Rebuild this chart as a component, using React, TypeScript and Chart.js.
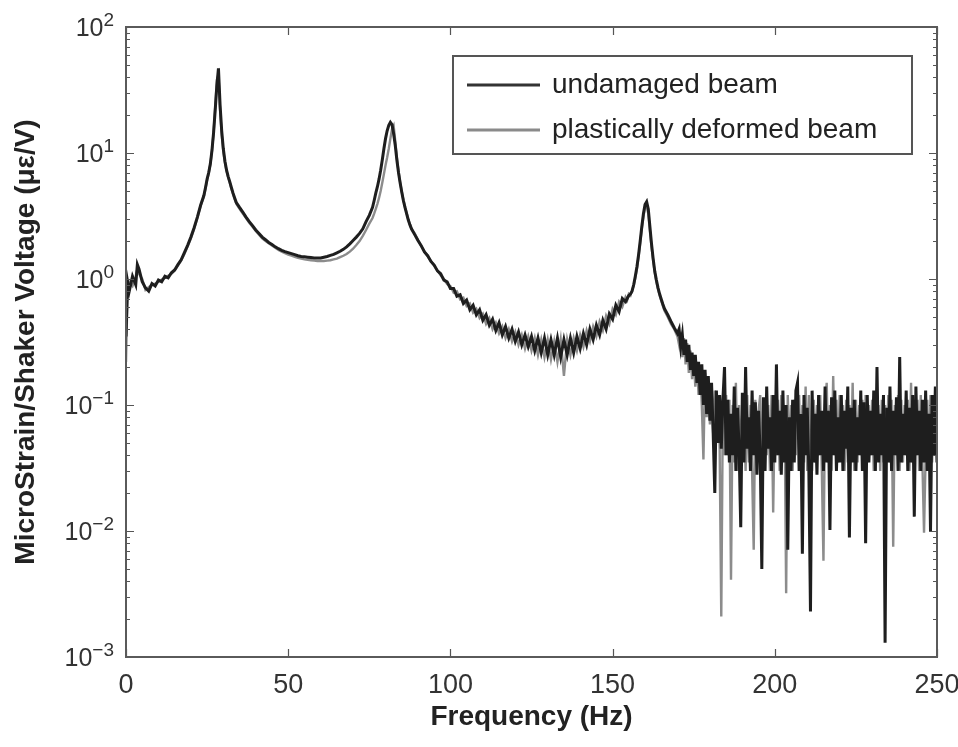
import React, { useEffect, useRef } from "react";
import { Chart, registerables } from "chart.js";

Chart.register(...registerables);

const FONT = '"Liberation Sans", Arial, Helvetica, sans-serif';

// ---------- data (frequency in Hz, response in microstrain / V) ----------
const freqA = [0, 0.5, 1, 2, 3, 3.5, 4, 5, 6, 7, 8, 9, 10, 11, 12, 13, 14, 15, 16, 17, 18, 19, 20, 21, 22, 23, 24];
const undamagedA = [0.35, 0.95, 0.8, 1.05, 0.9, 1.3, 1.2, 0.95, 0.85, 0.8, 0.92, 0.88, 0.98, 0.95, 1.05, 1.02, 1.12, 1.18, 1.3, 1.42, 1.62, 1.85, 2.15, 2.55, 3.1, 3.85, 4.6];
const plasticA = [0.22, 0.85, 0.95, 0.88, 1.05, 1.2, 1.1, 1.0, 0.82, 0.86, 0.9, 0.92, 0.95, 0.99, 1.02, 1.06, 1.1, 1.17, 1.28, 1.4, 1.58, 1.82, 2.1, 2.5, 3.05, 3.8, 4.5];

const freqB = [24.5, 25, 25.5, 26, 26.5, 27, 27.5, 28, 28.5, 29, 29.5, 30, 30.5, 31, 31.5, 32, 32.5, 33, 33.5, 34];
const undamagedB = [5.3, 6.2, 7.0, 8.2, 10.5, 14.5, 22, 34, 47, 24, 15, 10.8, 8.6, 7.3, 6.5, 5.9, 5.3, 4.8, 4.4, 4.05];
const plasticB = [5.2, 6.1, 6.9, 8.1, 10.4, 14.5, 23, 38, 42, 22, 14, 10.3, 8.4, 7.2, 6.4, 5.8, 5.2, 4.7, 4.3, 3.95];

const freqC = [35, 36, 37, 38, 39, 40, 41, 42, 43, 44, 45, 46, 47, 48, 49, 50, 51, 52, 53, 54, 55, 56, 57, 58, 59, 60, 61, 62, 63, 64, 65, 66, 67, 68, 69, 70, 71, 72, 73, 74, 75, 76];
const undamagedC = [3.7, 3.4, 3.1, 2.85, 2.65, 2.45, 2.3, 2.15, 2.05, 1.95, 1.88, 1.8, 1.74, 1.69, 1.65, 1.62, 1.59, 1.56, 1.53, 1.51, 1.5, 1.49, 1.48, 1.47, 1.47, 1.47, 1.49, 1.51, 1.54, 1.57, 1.61, 1.66, 1.72, 1.8, 1.9, 2.02, 2.15, 2.3, 2.5, 2.85, 3.2, 3.7];
const plasticC = [3.6, 3.3, 3.05, 2.8, 2.6, 2.4, 2.25, 2.1, 2.0, 1.92, 1.84, 1.77, 1.7, 1.65, 1.6, 1.56, 1.53, 1.5, 1.47, 1.45, 1.43, 1.42, 1.41, 1.4, 1.39, 1.39, 1.39, 1.4, 1.41, 1.43, 1.45, 1.49, 1.53, 1.58, 1.65, 1.74, 1.86, 2.0, 2.2, 2.45, 2.75, 3.05];

const freqD = [76.5, 77, 77.5, 78, 78.5, 79, 79.5, 80, 80.5, 81, 81.5, 82, 82.5, 83, 83.5, 84, 84.5, 85, 85.5, 86, 86.5, 87, 87.5, 88];
const undamagedD = [4.2, 4.8, 5.4, 6.2, 7.3, 8.8, 10.8, 13.0, 15.0, 16.6, 17.5, 16.8, 14.2, 11.5, 8.8, 7.0, 5.8, 4.9, 4.2, 3.7, 3.3, 2.95, 2.7, 2.5];
const plasticD = [3.3, 3.6, 3.95, 4.4, 5.0, 5.8, 6.8, 8.0, 9.2, 10.8, 13.0, 15.5, 16.5, 12.5, 9.2, 7.2, 5.9, 4.95, 4.25, 3.75, 3.35, 3.0, 2.72, 2.5];

const freqE = [89, 90, 91, 92, 93, 94, 95, 96, 97, 98, 99, 100, 101, 102, 103, 104, 105, 106, 107, 108, 109, 110, 111, 112, 113, 114, 115, 116, 117, 118, 119, 120, 121, 122, 123, 124, 125, 126, 127, 128, 129, 130, 131, 132, 133, 134, 135, 136, 137, 138, 139, 140, 141, 142, 143, 144, 145, 146, 147, 148, 149, 150, 151, 152, 153, 154];
const undamagedE = [2.25, 2.02, 1.84, 1.64, 1.53, 1.38, 1.29, 1.16, 1.1, 0.98, 0.95, 0.84,
  0.84, 0.73, 0.75, 0.64, 0.68, 0.57, 0.62, 0.52, 0.57, 0.47,
  0.52, 0.43, 0.48, 0.39, 0.45, 0.36, 0.42, 0.34, 0.4, 0.32,
  0.38, 0.3, 0.36, 0.29, 0.35, 0.27, 0.34, 0.26, 0.34, 0.25,
  0.33, 0.25, 0.34, 0.24, 0.33, 0.25, 0.34, 0.26, 0.35, 0.28,
  0.37, 0.3, 0.4, 0.33, 0.43, 0.36, 0.47, 0.4, 0.53, 0.48,
  0.62, 0.55, 0.7, 0.66];
const plasticE = [2.3, 2.05, 1.83, 1.66, 1.51, 1.39, 1.27, 1.17, 1.07, 1.0, 0.91, 0.88,
  0.78, 0.8, 0.69, 0.71, 0.61, 0.64, 0.54, 0.58, 0.49, 0.53,
  0.44, 0.49, 0.4, 0.45, 0.37, 0.42, 0.34, 0.4, 0.32, 0.38,
  0.3, 0.36, 0.28, 0.35, 0.27, 0.34, 0.25, 0.33, 0.24, 0.33,
  0.23, 0.32, 0.22, 0.33, 0.17, 0.33, 0.25, 0.34, 0.27, 0.36,
  0.29, 0.39, 0.32, 0.42, 0.35, 0.46, 0.39, 0.51, 0.44, 0.58,
  0.52, 0.66, 0.6, 0.72];

const freqF = [154.5, 155, 155.5, 156, 156.5, 157, 157.5, 158, 158.5, 159, 159.5, 160, 160.5, 161, 161.5, 162, 162.5, 163, 163.5, 164, 164.5, 165, 165.5, 166];
const undamagedF = [0.7, 0.74, 0.76, 0.8, 0.9, 1.05, 1.25, 1.55, 2.0, 2.6, 3.3, 3.9, 4.1, 3.6, 2.6, 1.9, 1.45, 1.15, 0.98, 0.85, 0.76, 0.69, 0.63, 0.58];
const plasticF = [0.68, 0.76, 0.74, 0.82, 0.88, 1.02, 1.2, 1.5, 1.9, 2.5, 3.1, 3.7, 3.8, 3.3, 2.4, 1.8, 1.4, 1.12, 0.95, 0.83, 0.74, 0.67, 0.61, 0.56];

const freqG = [167, 168, 169, 170];
const undamagedG = [0.52, 0.46, 0.41, 0.37];
const plasticG = [0.5, 0.44, 0.4, 0.35];

const freqH1 = [170.5, 171, 171.5, 172, 172.5, 173, 173.5, 174, 174.5, 175,
  175.5, 176, 176.5, 177, 177.5, 178, 178.5, 179, 179.5, 180,
  180.5, 181, 181.5, 182, 182.5, 183, 183.5, 184, 184.5, 185,
  185.5, 186, 186.5, 187, 187.5, 188, 188.5, 189, 189.5, 190,
  190.5, 191, 191.5, 192, 192.5, 193, 193.5, 194, 194.5, 195,
  195.5, 196, 196.5, 197, 197.5, 198, 198.5, 199, 199.5, 200,
  200.5, 201, 201.5, 202, 202.5, 203, 203.5, 204, 204.5, 205,
  205.5, 206, 206.5, 207, 207.5, 208, 208.5, 209, 209.5, 210];
const undamagedH1 = [0.4, 0.29, 0.36, 0.25, 0.33, 0.22, 0.3, 0.19, 0.26, 0.17,
  0.25, 0.15, 0.22, 0.12, 0.21, 0.1, 0.19, 0.085, 0.17, 0.075,
  0.15, 0.06, 0.02, 0.13, 0.05, 0.12, 0.045, 0.11, 0.2, 0.04,
  0.11, 0.035, 0.085, 0.04, 0.14, 0.03, 0.095, 0.045, 0.0107, 0.125,
  0.035, 0.2, 0.045, 0.08, 0.03, 0.13, 0.04, 0.105, 0.028, 0.09,
  0.04, 0.005, 0.115, 0.03, 0.14, 0.045, 0.08, 0.03, 0.12, 0.035,
  0.21, 0.04, 0.09, 0.028, 0.13, 0.035, 0.1, 0.0071, 0.08, 0.03,
  0.11, 0.035, 0.13, 0.15, 0.03, 0.085, 0.0066, 0.12, 0.04, 0.095];
const plasticH1 = [0.3, 0.38, 0.24, 0.34, 0.21, 0.31, 0.18, 0.27, 0.16, 0.24,
  0.14, 0.22, 0.12, 0.2, 0.1, 0.037, 0.18, 0.08, 0.16, 0.07,
  0.14, 0.06, 0.13, 0.05, 0.12, 0.045, 0.0021, 0.11, 0.04, 0.12,
  0.04, 0.11, 0.0041, 0.1, 0.035, 0.15, 0.03, 0.1, 0.04, 0.09,
  0.11, 0.03, 0.12, 0.035, 0.1, 0.03, 0.0071, 0.11, 0.04, 0.09,
  0.12, 0.03, 0.035, 0.11, 0.04, 0.1, 0.03, 0.12, 0.014, 0.1,
  0.04, 0.11, 0.03, 0.12, 0.04, 0.1, 0.0032, 0.12, 0.035, 0.1,
  0.03, 0.11, 0.04, 0.1, 0.12, 0.03, 0.1, 0.035, 0.14, 0.03];

const freqH2 = [210.5, 211, 211.5, 212, 212.5, 213, 213.5, 214, 214.5, 215,
  215.5, 216, 216.5, 217, 217.5, 218, 218.5, 219, 219.5, 220,
  220.5, 221, 221.5, 222, 222.5, 223, 223.5, 224, 224.5, 225,
  225.5, 226, 226.5, 227, 227.5, 228, 228.5, 229, 229.5, 230,
  230.5, 231, 231.5, 232, 232.5, 233, 233.5, 234, 234.5, 235,
  235.5, 236, 236.5, 237, 237.5, 238, 238.5, 239, 239.5, 240,
  240.5, 241, 241.5, 242, 242.5, 243, 243.5, 244, 244.5, 245,
  245.5, 246, 246.5, 247, 247.5, 248, 248.5, 249, 249.5, 250];
const undamagedH2 = [0.03, 0.0023, 0.13, 0.035, 0.085, 0.028, 0.12, 0.04, 0.09, 0.03,
  0.14, 0.035, 0.09, 0.0102, 0.115, 0.04, 0.13, 0.03, 0.08, 0.035,
  0.12, 0.03, 0.09, 0.045, 0.14, 0.0089, 0.095, 0.035, 0.11, 0.03,
  0.08, 0.04, 0.13, 0.03, 0.105, 0.008, 0.12, 0.035, 0.09, 0.04,
  0.13, 0.03, 0.2, 0.035, 0.085, 0.04, 0.12, 0.0013, 0.095, 0.035,
  0.14, 0.03, 0.09, 0.04, 0.115, 0.03, 0.24, 0.035, 0.085, 0.04,
  0.13, 0.03, 0.095, 0.035, 0.12, 0.013, 0.14, 0.04, 0.09, 0.03,
  0.11, 0.035, 0.13, 0.03, 0.085, 0.01, 0.12, 0.04, 0.14, 0.035];
const plasticH2 = [0.12, 0.04, 0.03, 0.11, 0.035, 0.1, 0.04, 0.12, 0.03, 0.0058,
  0.1, 0.15, 0.035, 0.1, 0.03, 0.17, 0.04, 0.11, 0.035, 0.12,
  0.04, 0.1, 0.03, 0.11, 0.035, 0.1, 0.04, 0.15, 0.03, 0.11,
  0.035, 0.1, 0.04, 0.11, 0.03, 0.12, 0.035, 0.1, 0.04, 0.11,
  0.03, 0.12, 0.04, 0.1, 0.03, 0.11, 0.035, 0.1, 0.04, 0.12,
  0.035, 0.11, 0.0075, 0.1, 0.04, 0.12, 0.03, 0.11, 0.035, 0.1,
  0.04, 0.11, 0.03, 0.15, 0.035, 0.1, 0.04, 0.11, 0.03, 0.12,
  0.035, 0.0097, 0.04, 0.11, 0.03, 0.12, 0.035, 0.1, 0.04, 0.11];

const seriesLabels = ["undamaged beam", "plastically deformed beam"];
const xTickValues = [0, 50, 100, 150, 200, 250];
const yTickExponents = [-3, -2, -1, 0, 1, 2];
const xTitle = "Frequency (Hz)";
const yTitle = "MicroStrain/Shaker Voltage (\u03bc\u03b5/V)";

const DARK = "#1e1e1e";
const GRAY = "#8c8c8c";

function zip(f: number[], v: number[]) {
  return f.map((x, i) => ({ x, y: v[i] }));
}

const undamagedPoints = [
  ...zip(freqA, undamagedA), ...zip(freqB, undamagedB), ...zip(freqC, undamagedC),
  ...zip(freqD, undamagedD), ...zip(freqE, undamagedE), ...zip(freqF, undamagedF),
  ...zip(freqG, undamagedG), ...zip(freqH1, undamagedH1), ...zip(freqH2, undamagedH2),
];
const plasticPoints = [
  ...zip(freqA, plasticA), ...zip(freqB, plasticB), ...zip(freqC, plasticC),
  ...zip(freqD, plasticD), ...zip(freqE, plasticE), ...zip(freqF, plasticF),
  ...zip(freqG, plasticG), ...zip(freqH1, plasticH1), ...zip(freqH2, plasticH2),
];

const framePlugin = {
  id: "matlabFrame",
  afterDatasetsDraw(chart: any) {
    const { ctx, chartArea: a, scales } = chart;
    const xs = scales.x;
    const ys = scales.y;
    ctx.save();
    ctx.strokeStyle = "#555";
    ctx.lineWidth = 1.2;
    ctx.beginPath();
    for (const v of xTickValues) {
      const px = Math.round(xs.getPixelForValue(v)) + 0.5;
      ctx.moveTo(px, a.bottom);
      ctx.lineTo(px, a.bottom - 8);
      ctx.moveTo(px, a.top);
      ctx.lineTo(px, a.top + 8);
    }
    const lo = yTickExponents[0];
    const hi = yTickExponents[yTickExponents.length - 1];
    for (let e = lo; e <= hi; e++) {
      for (let m = 1; m <= 9; m++) {
        if (e === hi && m > 1) break;
        const py = Math.round(ys.getPixelForValue(m * Math.pow(10, e))) + 0.5;
        const len = m === 1 ? 8 : 4;
        ctx.moveTo(a.left, py);
        ctx.lineTo(a.left + len, py);
        ctx.moveTo(a.right, py);
        ctx.lineTo(a.right - len, py);
      }
    }
    ctx.stroke();
    ctx.lineWidth = 2;
    ctx.strokeStyle = "#5a5a5a";
    ctx.strokeRect(a.left, a.top, a.right - a.left, a.bottom - a.top);

    // y tick labels with superscript exponents
    ctx.fillStyle = "#333";
    const rightEdge = a.left - 12;
    for (const e of yTickExponents) {
      const py = ys.getPixelForValue(Math.pow(10, e));
      const supText = String(e).replace("-", "\u2212");
      ctx.font = `19px ${FONT}`;
      const supW = ctx.measureText(supText).width;
      ctx.textAlign = "left";
      ctx.textBaseline = "alphabetic";
      ctx.fillText(supText, rightEdge - supW, py - 1);
      ctx.font = `25px ${FONT}`;
      ctx.textAlign = "right";
      ctx.fillText("10", rightEdge - supW, py + 9);
    }
    ctx.restore();
  },
  afterDraw(chart: any) {
    const { ctx, chartArea: a } = chart;
    const boxRight = a.right - 25;
    const boxLeft = boxRight - 459;
    const boxTop = a.top + 29;
    const boxBottom = boxTop + 98;
    ctx.save();
    ctx.fillStyle = "#fff";
    ctx.fillRect(boxLeft, boxTop, boxRight - boxLeft, boxBottom - boxTop);
    ctx.strokeStyle = "#555";
    ctx.lineWidth = 2;
    ctx.strokeRect(boxLeft, boxTop, boxRight - boxLeft, boxBottom - boxTop);
    const ds = chart.data.datasets;
    ds.forEach((d: any, i: number) => {
      const y = boxTop + 29 + i * 45;
      ctx.strokeStyle = i === 0 ? "#333" : "#8a8a8a";
      ctx.lineWidth = 3;
      ctx.beginPath();
      ctx.moveTo(boxLeft + 14, y);
      ctx.lineTo(boxLeft + 87, y);
      ctx.stroke();
      ctx.fillStyle = "#222";
      ctx.font = `28px ${FONT}`;
      ctx.textAlign = "left";
      ctx.textBaseline = "middle";
      ctx.fillText(d.label, boxLeft + 99, y);
    });
    ctx.restore();
  },
};

export default function App() {
  const ref = useRef<HTMLCanvasElement | null>(null);
  useEffect(() => {
    if (!ref.current) return;
    const chart = new Chart(ref.current, {
      type: "line",
      data: {
        datasets: [
          {
            label: seriesLabels[0],
            data: undamagedPoints,
            borderColor: DARK,
            borderWidth: 3,
            pointRadius: 0,
            tension: 0,
            fill: false,
          },
          {
            label: seriesLabels[1],
            data: plasticPoints,
            borderColor: GRAY,
            borderWidth: 2.4,
            pointRadius: 0,
            tension: 0,
            fill: false,
          },
        ],
      },
      options: {
        animation: false,
        responsive: true,
        maintainAspectRatio: false,
        layout: { padding: { left: 0, right: 21, top: 27, bottom: 0 } },
        plugins: { legend: { display: false }, tooltip: { enabled: false } },
        scales: {
          x: {
            type: "linear",
            min: 0,
            max: 250,
            afterFit: (s: any) => {
              s.height = 90;
              s.paddingLeft = 0;
              s.paddingRight = 0;
            },
            afterBuildTicks: (s: any) => {
              s.ticks = xTickValues.map((v) => ({ value: v }));
            },
            ticks: {
              font: { size: 27, family: FONT },
              color: "#333",
              padding: 12,
              maxRotation: 0,
              autoSkip: false,
            },
            grid: { display: false, drawTicks: false },
            border: { display: false },
            title: {
              display: true,
              text: xTitle,
              color: "#222",
              font: { size: 28, weight: "bold", family: FONT },
              padding: { top: 0, bottom: 13 },
            },
          },
          y: {
            type: "logarithmic",
            min: 0.001,
            max: 100,
            afterFit: (s: any) => {
              s.width = 126;
              s.paddingTop = 0;
              s.paddingBottom = 0;
            },
            ticks: { display: false },
            grid: { display: false, drawTicks: false },
            border: { display: false },
            title: {
              display: true,
              text: yTitle,
              color: "#222",
              font: { size: 28, weight: "bold", family: FONT },
              padding: { top: 9, bottom: 0 },
            },
          },
        },
      },
      plugins: [framePlugin],
    } as any);
    return () => chart.destroy();
  }, []);
  return (
    <div style={{ position: "fixed", left: 0, top: 0, width: 958, height: 747, background: "#fff" }}>
      <canvas ref={ref} style={{ display: "block" }} />
    </div>
  );
}
